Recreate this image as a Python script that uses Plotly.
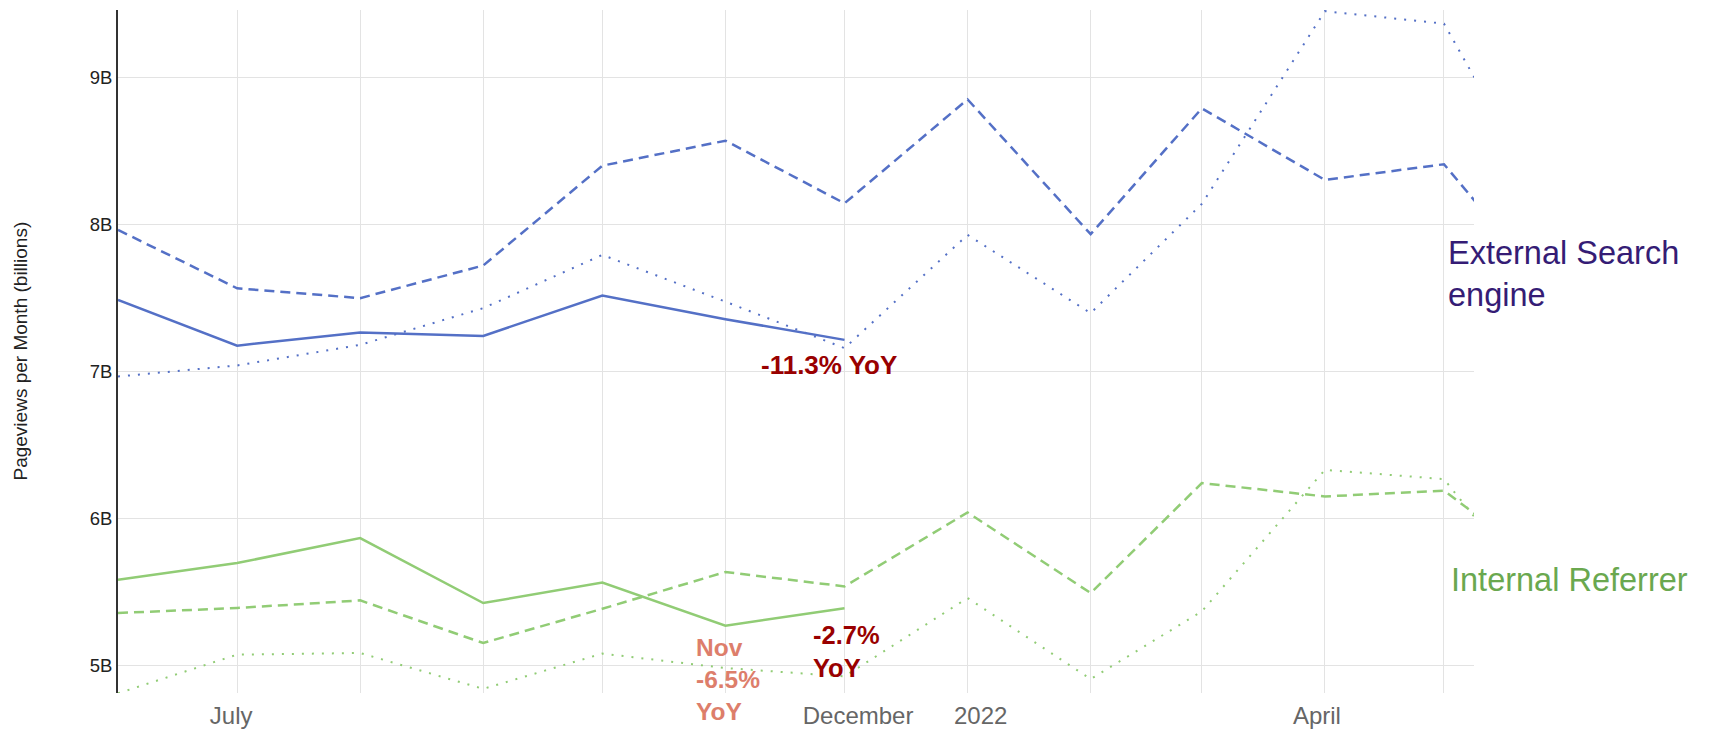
import plotly.graph_objects as go

# ---- data (billions of pageviews per month) ----
months_full = ["2021-06-01", "2021-07-01", "2021-08-01", "2021-09-01", "2021-10-01",
               "2021-11-01", "2021-12-01", "2022-01-01", "2022-02-01", "2022-03-01",
               "2022-04-01", "2022-05-01", "2022-06-01"]
months_cur = months_full[:7]

ext_current = [7.486, 7.175, 7.264, 7.241, 7.515, 7.355, 7.214]
ext_prev = [7.962, 7.565, 7.498, 7.720, 8.399, 8.569, 8.143, 8.850, 7.933, 8.789, 8.302, 8.409, 7.41]
ext_prev2 = [6.965, 7.040, 7.180, 7.430, 7.792, 7.474, 7.158, 7.928, 7.396, 8.139, 9.450, 9.365, 7.885]

int_current = [5.583, 5.696, 5.866, 5.424, 5.564, 5.270, 5.388]
int_prev = [5.356, 5.390, 5.442, 5.152, 5.385, 5.635, 5.537, 6.040, 5.492, 6.240, 6.149, 6.188, 5.565]
int_prev2 = [4.810, 5.073, 5.084, 4.840, 5.080, 4.982, 4.925, 5.458, 4.907, 5.367, 6.330, 6.267, 5.226]

y_ticks = [5, 6, 7, 8, 9]
y_tick_text = ["5B", "6B", "7B", "8B", "9B"]
grid_months = months_full[1:12]
x_label_pos = ["2021-06-29 12:00", "2021-12-04 10:00", "2022-01-04 07:00", "2022-03-30"]
x_label_text = ["July", "December", "2022", "April"]

BLUE = "#5470c6"
GREEN = "#91cc75"
FONT = "Liberation Sans, Arial, sans-serif"

fig = go.Figure()

def add_line(x, y, color, dash, width):
    fig.add_trace(go.Scatter(x=x, y=y, mode="lines",
                             line=dict(color=color, dash=dash, width=width),
                             showlegend=False, hoverinfo="skip"))

add_line(months_full, ext_prev2, BLUE, "2px,8px", 2)
add_line(months_full, ext_prev, BLUE, "10px,6px", 2.5)
add_line(months_cur, ext_current, BLUE, "solid", 2.5)
add_line(months_full, int_prev2, GREEN, "2px,8px", 2)
add_line(months_full, int_prev, GREEN, "10px,6px", 2.5)
add_line(months_cur, int_current, GREEN, "solid", 2.5)

x_range = ["2021-06-01", "2022-05-08 13:30"]

fig.update_layout(
    width=1712, height=729, autosize=False,
    margin=dict(l=118, r=238, t=10, b=36, autoexpand=False),
    paper_bgcolor="white", plot_bgcolor="white",
    font=dict(family=FONT, color="#222"),
    xaxis=dict(type="date", range=x_range, tickvals=grid_months, automargin=False,
               showticklabels=False, showgrid=True, gridcolor="#e3e3e3", gridwidth=1.2,
               zeroline=False, showline=False, ticks=""),
    xaxis2=dict(type="date", range=x_range, overlaying="x", side="bottom",
                anchor="y", tickvals=x_label_pos, ticktext=x_label_text, automargin=False,
                showgrid=False, zeroline=False, showline=False, ticks="",
                ticklabelstandoff=6,
                tickfont=dict(size=24, color="#666", family=FONT)),
    yaxis=dict(range=[4.812, 9.458], tickvals=y_ticks, ticktext=y_tick_text, automargin=False,
               showgrid=True, gridcolor="#e3e3e3", gridwidth=1.2, zeroline=False,
               showline=True, linecolor="#333", linewidth=2, ticks="",
               tickfont=dict(size=18.5, color="#222", family=FONT)),
)

# invisible trace to attach xaxis2
fig.add_trace(go.Scatter(x=[x_range[0]], y=[5], xaxis="x2", mode="markers",
                         marker=dict(opacity=0), showlegend=False, hoverinfo="skip"))

annotations = [
    dict(text="Pageviews per Month (billions)", xref="paper", yref="paper",
         x=0, y=0.5, xanchor="center", yanchor="middle", xshift=-98, yshift=0,
         textangle=-90, showarrow=False, font=dict(size=19, color="#222", family=FONT)),
    dict(text="External Search<br>engine", xref="paper", yref="y", x=1, y=7.66,
         xanchor="left", yanchor="middle", xshift=-28, align="left", showarrow=False,
         font=dict(size=32.5, color="#351c75", family=FONT)),
    dict(text="Internal Referrer", xref="paper", yref="y", x=1, y=5.58,
         xanchor="left", yanchor="middle", xshift=-25, align="left", showarrow=False,
         font=dict(size=32.5, color="#6aa84f", family=FONT)),
    dict(text="<b>-11.3% YoY</b>", xref="x", yref="y", x="2021-12-01", y=7.04,
         xanchor="left", yanchor="middle", xshift=-86, align="left", showarrow=False,
         font=dict(size=26, color="#990000", family=FONT)),
    dict(text="<b>-2.7%<br>YoY</b>", xref="x", yref="y", x="2021-12-01", y=5.095,
         xanchor="left", yanchor="middle", xshift=-34, align="left", showarrow=False,
         font=dict(size=25.5, color="#990000", family=FONT)),
    dict(text="<b>Nov<br>-6.5%<br>YoY</b>", xref="x", yref="y", x="2021-11-01", y=4.905,
         xanchor="left", yanchor="middle", xshift=-31, align="left", showarrow=False,
         font=dict(size=24.5, color="#dd7e6b", family=FONT)),
]
fig.update_layout(annotations=annotations)

fig.write_html(
    "out.html",
    config={"displayModeBar": False},
    post_script="document.body.style.margin='0px';document.body.style.padding='0px';"
                "document.body.style.overflow='hidden';",
)
